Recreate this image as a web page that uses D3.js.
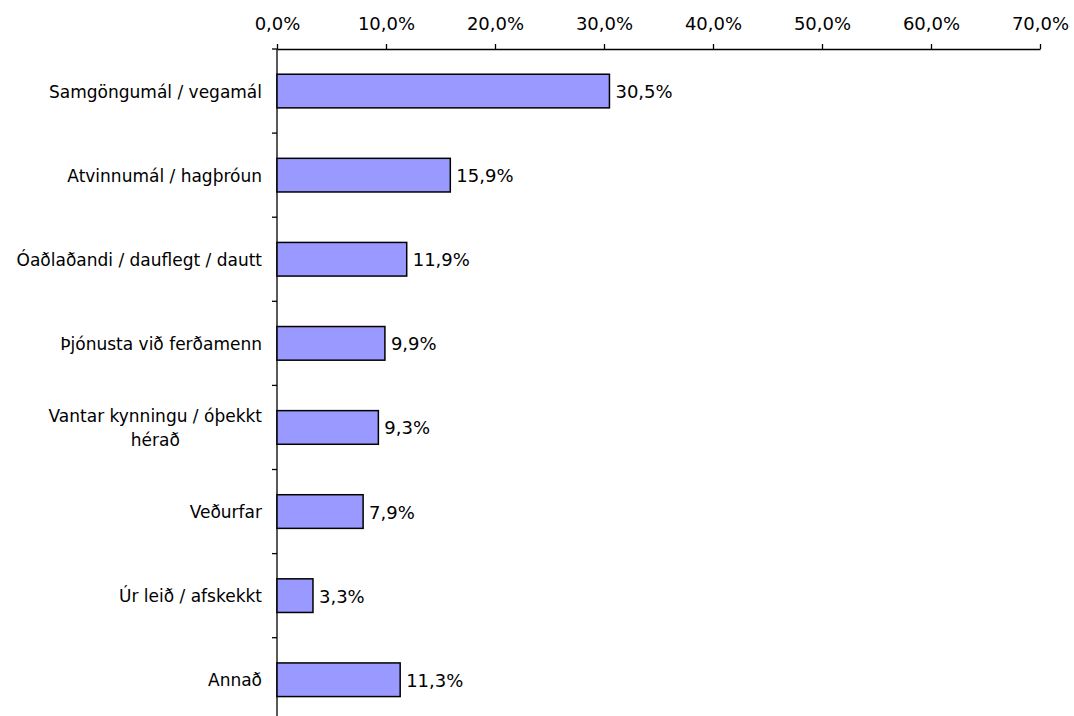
<!DOCTYPE html>
<html><head><meta charset="utf-8">
<script src="https://cdn.jsdelivr.net/npm/d3@7"></script>
<style>body{margin:0;background:#fff}svg{display:block}text{font-family:"DejaVu Sans",sans-serif;fill:#000}</style>
</head><body>
<svg id="c" width="1074" height="716"></svg>
<script>
const categories = [["Samgöngumál / vegamál"],["Atvinnumál / hagþróun"],["Óaðlaðandi / dauflegt / dautt"],["Þjónusta við ferðamenn"],["Vantar kynningu / óþekkt","hérað"],["Veðurfar"],["Úr leið / afskekkt"],["Annað"]];
const values = [30.5, 15.9, 11.9, 9.9, 9.3, 7.9, 3.3, 11.3];
const tickValues = [0,10,20,30,40,50,60,70];
const fmt = v => v.toFixed(1).replace(".", ",") + "%";

const svg = d3.select("#c");
const x0 = 277, x1 = 1040, yTop = 49, band = 84.1;
const x = d3.scaleLinear().domain([0,70]).range([x0,x1]);
const ids = d3.range(categories.length);
const y = d3.scaleBand().domain(ids).range([yTop, yTop + band*categories.length]).paddingInner(0.6).paddingOuter(0.3);

// top axis
const gx = svg.append("g").attr("transform",`translate(0,${yTop})`)
  .call(d3.axisTop(x).tickValues(tickValues).tickFormat(fmt).tickSizeInner(5).tickSizeOuter(0).tickPadding(14));
gx.select(".domain").attr("stroke","#000").attr("stroke-width",1.3);
gx.selectAll(".tick line").attr("stroke","#000").attr("stroke-width",1.3);
gx.selectAll(".tick text").attr("font-size",18).attr("font-family","DejaVu Sans");

// left axis line
svg.append("line").attr("x1",x0).attr("x2",x0).attr("y1",yTop).attr("y2",716+10).attr("stroke","#000").attr("stroke-width",1.3);
// left ticks at band boundaries
svg.selectAll(".lt").data(d3.range(categories.length+1)).enter().append("line")
  .attr("x1",x0-5).attr("x2",x0).attr("y1",i=>yTop+i*band).attr("y2",i=>yTop+i*band)
  .attr("stroke","#000").attr("stroke-width",1.3);

// bars
svg.selectAll(".bar").data(ids).enter().append("rect")
  .attr("x",x(0)).attr("y",i=>y(i)).attr("width",i=>x(values[i])-x(0)).attr("height",y.bandwidth())
  .attr("fill","#9999FF").attr("stroke","#000").attr("stroke-width",1.5);

// value labels
svg.selectAll(".vl").data(ids).enter().append("text")
  .attr("x",i=>x(values[i])+6).attr("y",i=>y(i)+y.bandwidth()/2+7)
  .attr("font-size",18).text(i=>fmt(values[i]));

// category labels
const labelRight = 262, lineH = 24;
ids.forEach(i=>{
  const lines = categories[i];
  const cy = y(i)+y.bandwidth()/2;
  const t = svg.append("text").attr("font-size",17).attr("text-anchor","middle");
  lines.forEach((s,k)=>{
    t.append("tspan").attr("y", cy + 6.5 + (k-(lines.length-1)/2)*lineH).text(s);
  });
  let maxW = 0;
  t.selectAll("tspan").each(function(){ maxW = Math.max(maxW, this.getComputedTextLength()); });
  t.selectAll("tspan").attr("x", labelRight - maxW/2);
});
</script>
</body></html>
